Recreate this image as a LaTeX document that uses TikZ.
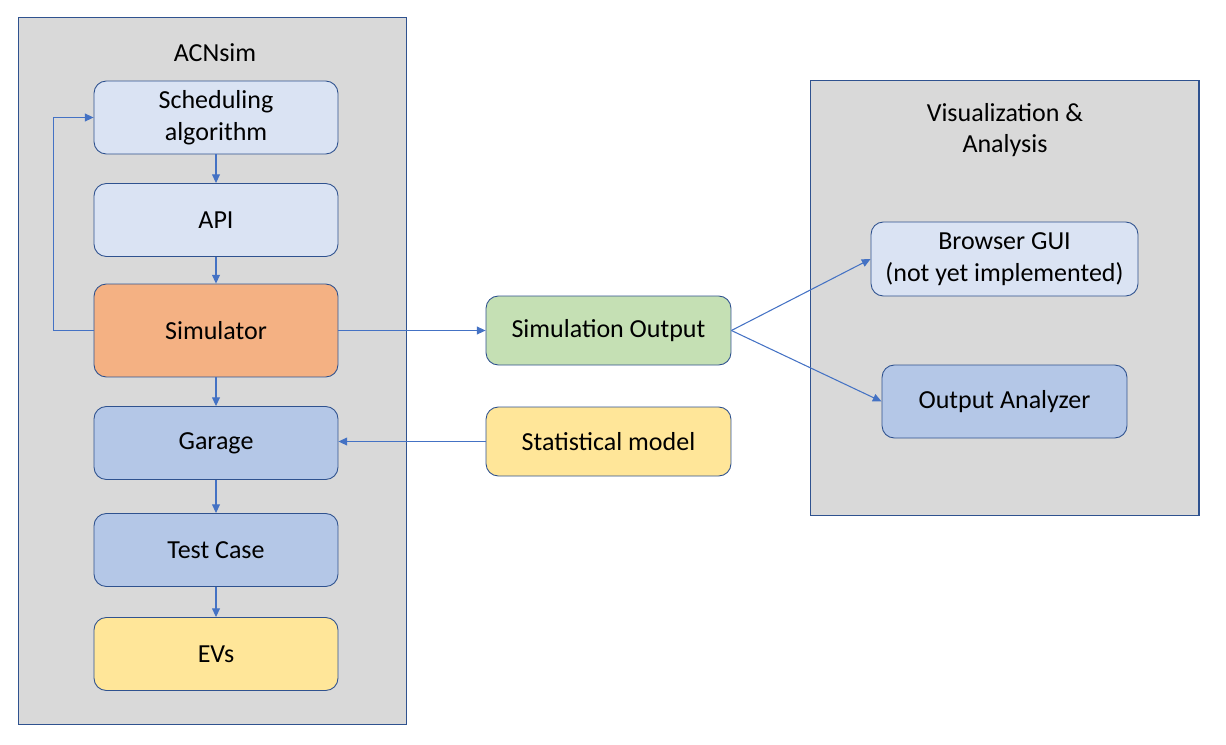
\documentclass[tikz,border=0pt]{standalone}
\usepackage{fontspec}
\setmainfont{Carlito}
\usetikzlibrary{positioning,calc,arrows.meta}

\definecolor{frameblue}{HTML}{2F528F}
\definecolor{arrowblue}{HTML}{4472C4}
\definecolor{boxgray}{HTML}{D9D9D9}
\definecolor{paleblue}{HTML}{DAE3F3}
\definecolor{midblue}{HTML}{B4C7E7}
\definecolor{salmon}{HTML}{F4B183}
\definecolor{palegreen}{HTML}{C5E0B4}
\definecolor{paleyellow}{HTML}{FFE699}

\tikzset{
	boxfont/.style={font=\fontsize{14.8}{18}\selectfont},
	block/.style={boxfont,draw=frameblue,line width=0.5pt,rounded corners=7pt,align=center,
		inner sep=0pt,minimum width=4.88cm,minimum height=1.46cm},
	group/.style={draw=frameblue,line width=0.6pt,fill=boxgray,inner sep=0pt},
	flow/.style={draw=arrowblue,line width=0.6pt,-{Triangle[length=5pt,width=4.5pt]}},
}

\begin{document}
\begin{tikzpicture}[x=0.02cm,y=-0.02cm]
		\useasboundingbox (0,0) rectangle (1226,744);
		% the two gray groups
		\node[group,minimum width=7.78cm,minimum height=14.16cm] (acn) at (212.5,371) {};
		\node[group,minimum width=7.78cm,minimum height=8.72cm] (vis) at (1004.5,298) {};
		\node[boxfont] (acnlabel) at (215,53) {ACNsim};
		\node[boxfont,align=center] (vislabel) at (1005,130) {Visualization \&\\Analysis};
		% ACNsim stack
		\node[block,fill=paleblue] (sched) at (216,117.5) {Scheduling\\algorithm};
		\node[block,fill=paleblue] (api) at (216,220) {API};
		\node[block,fill=salmon,minimum height=1.86cm] (sim) at (216,330.5) {Simulator};
		\node[block,fill=midblue] (garage) at (216,443) {Garage};
		\node[block,fill=midblue] (test) at (216,550) {Test Case};
		\node[block,fill=paleyellow] (evs) at (216,654) {EVs};
		% middle column
		\node[block,fill=palegreen,minimum width=4.9cm,minimum height=1.38cm] (simout) at (608.5,330.5) {Simulation Output};
		\node[block,fill=paleyellow,minimum width=4.9cm,minimum height=1.38cm] (stat) at (608.5,441.5) {Statistical model};
		% right group
		\node[block,fill=paleblue,minimum width=5.34cm,minimum height=1.48cm] (gui) at (1004.5,259) {Browser GUI\\(not yet implemented)};
		\node[block,fill=midblue,minimum width=4.9cm] (ana) at (1004.5,401.5) {Output Analyzer};
		% connectors
		\draw[flow] (sched) -- (api);
		\draw[flow] (api) -- (sim);
		\draw[flow] (sim) -- (garage);
		\draw[flow] (garage) -- (test);
		\draw[flow] (test) -- (evs);
		\draw[flow] (sim.west) -- ++(-40,0) |- (sched.west);
		\draw[flow] (sim.east) -- (simout.west);
		\draw[flow] (stat.west) -- (stat.west -| garage.east);
		\draw[flow] (simout.east) -- (gui.west);
		\draw[flow] (simout.east) -- (ana.west);
	\end{tikzpicture}
\end{document}
